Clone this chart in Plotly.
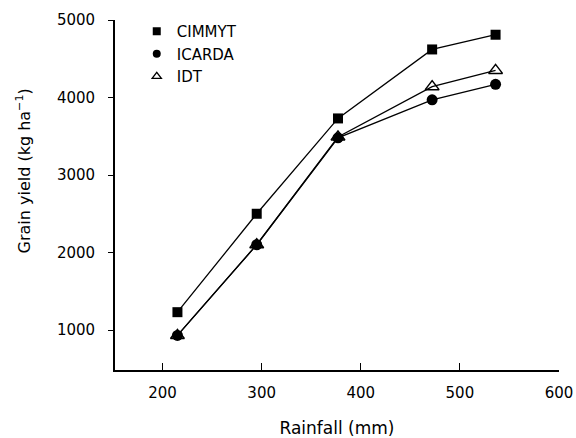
import plotly.graph_objects as go

rainfall = [215, 295, 377, 472, 536]
cimmyt = [1230, 2500, 3730, 4620, 4810]
icarda = [930, 2100, 3480, 3970, 4170]
idt = [930, 2100, 3490, 4140, 4350]

x_ticks = [200, 300, 400, 500, 600]
y_ticks = [1000, 2000, 3000, 4000, 5000]

FONT = "DejaVu Sans"

fig = go.Figure()

line = dict(color="black", width=1.3)

fig.add_trace(go.Scatter(x=rainfall, y=cimmyt, mode="lines+markers", name="CIMMYT",
                         line=line, showlegend=False,
                         marker=dict(symbol="square", size=10, color="black")))
fig.add_trace(go.Scatter(x=rainfall, y=icarda, mode="lines+markers", name="ICARDA",
                         line=line, showlegend=False,
                         marker=dict(symbol="circle", size=11, color="black")))
fig.add_trace(go.Scatter(x=rainfall, y=idt, mode="lines+markers", name="IDT",
                         line=line, showlegend=False,
                         marker=dict(symbol="triangle-up-open", size=12, color="black",
                                     line=dict(width=1.5, color="black"))))

# legend-only entries (markers without lines)
fig.add_trace(go.Scatter(x=[None], y=[None], mode="markers", name="CIMMYT",
                         marker=dict(symbol="square", size=8, color="black")))
fig.add_trace(go.Scatter(x=[None], y=[None], mode="markers", name="ICARDA",
                         marker=dict(symbol="circle", size=8, color="black")))
fig.add_trace(go.Scatter(x=[None], y=[None], mode="markers", name="IDT",
                         marker=dict(symbol="triangle-up-open", size=8, color="black",
                                     line=dict(width=1.3, color="black"))))

fig.update_layout(
    width=576, height=438,
    margin=dict(l=115, r=17, t=20, b=68, autoexpand=False),
    paper_bgcolor="white", plot_bgcolor="white",
    font=dict(family=FONT, color="black", size=16),
    legend=dict(x=0.049, y=1.014, xanchor="left", yanchor="top",
                bgcolor="rgba(0,0,0,0)", font=dict(size=15, family=FONT),
                tracegroupgap=0, itemwidth=30),
    xaxis=dict(range=[152, 600], tickvals=x_ticks, ticks="inside", ticklen=7,
               tickwidth=1.3, tickcolor="black", showline=True, linecolor="black",
               linewidth=1.8, showgrid=False, zeroline=False, mirror=False,
               automargin=False,
               tickfont=dict(size=15, family=FONT), ticklabelstandoff=8,
               title=dict(text="Rainfall (mm)", font=dict(size=17, family=FONT), standoff=22)),
    yaxis=dict(range=[484, 5000], tickvals=y_ticks, ticks="outside", ticklen=5,
               tickwidth=1.3, tickcolor="black", showline=True, linecolor="black",
               linewidth=1.8, showgrid=False, zeroline=False, mirror=False,
               automargin=False,
               tickfont=dict(size=15, family=FONT), ticklabelstandoff=10),
    annotations=[dict(text="Grain yield (kg ha<sup>−1</sup>)", textangle=-90,
                      xref="paper", yref="paper", x=-0.205, y=0.57,
                      xanchor="center", yanchor="middle", showarrow=False,
                      font=dict(size=16, family=FONT))],
)

fig.write_html("out.html")
